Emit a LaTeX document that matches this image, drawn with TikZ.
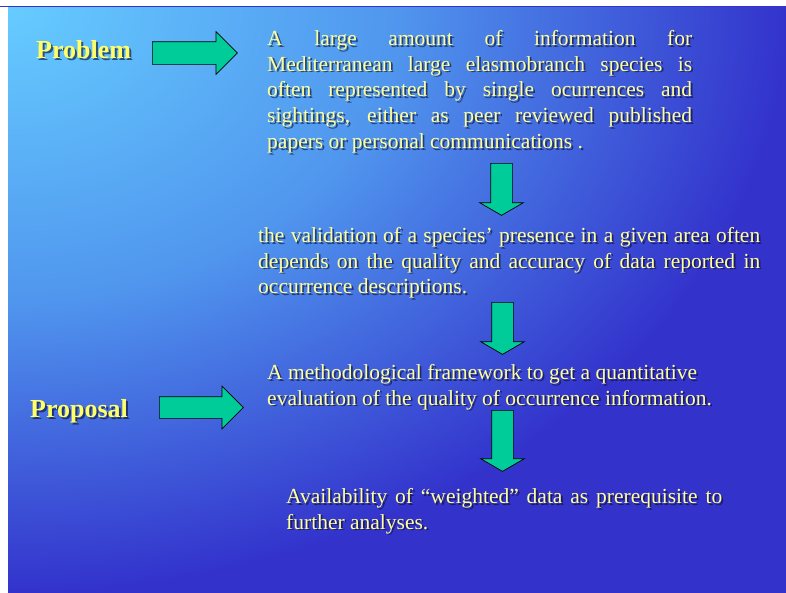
\documentclass[tikz,border=0pt]{standalone}
\usepackage{fontspec}
\setmainfont{Liberation Serif}
\usetikzlibrary{shapes.arrows}
\definecolor{bgA}{RGB}{102,204,255}
\definecolor{bgB}{RGB}{80,150,238}
\definecolor{bgC}{RGB}{51,51,204}
\definecolor{txtcol}{RGB}{255,255,153}
\definecolor{lblcol}{RGB}{255,255,102}
\definecolor{shcol}{RGB}{10,10,40}
\definecolor{arrowfill}{RGB}{0,204,153}
\pgfdeclareradialshading{bgshade}{\pgfpoint{0bp}{0bp}}{color(0bp)=(bgA); color(12.5bp)=(bgB); color(25bp)=(bgC); color(50bp)=(bgC)}
\begin{document}
\begin{tikzpicture}[x=1pt,y=-1pt,
  bodytext/.style={text=txtcol, font=\fontsize{21.5}{25.8}\selectfont, inner sep=0pt, anchor=north west},
  lbltext/.style={text=lblcol, font=\fontsize{26}{30}\selectfont\bfseries, inner sep=0pt, anchor=base west},
  shadowtext/.style={text=shcol, text opacity=0.6},
  blockarrow/.style={single arrow, draw=black, line width=0.7pt, fill=arrowfill, inner xsep=0pt, inner ysep=10.5pt, single arrow head indent=0pt, anchor=tail}]
\useasboundingbox (0,0) rectangle (786,592);
\fill[white] (0,0) rectangle (786,592);
\begin{scope}
  \clip (8,7) rectangle (786,592);
  \node[inner sep=0pt, outer sep=0pt, xscale=31.0, yscale=23.3] (bg) at (8,7) {\pgfuseshading{bgshade}};
\end{scope}
\draw[bgC, line width=1pt] (0,6.5) -- (786,6.5);

% labels (shadow, then text)
\node[lbltext, shadowtext] (problemS) at (38,60) {Problem};
\node[lbltext] (problem) at (36,58) {Problem};
\node[lbltext, shadowtext] (proposalS) at (32,419) {Proposal};
\node[lbltext] (proposal) at (30,417) {Proposal};

% block arrows
\node[blockarrow, minimum height=85pt, minimum width=42pt, single arrow head extend=10pt, inner ysep=11pt] (ra1) at (152,53) {};
\node[blockarrow, minimum height=84pt, minimum width=42pt, single arrow head extend=10.5pt] (ra2) at (159,407.5) {};
\node[blockarrow, rotate=-90, minimum height=52pt, minimum width=43pt, single arrow head extend=11pt, single arrow tip angle=119.7] (da1) at (501.5,163) {};
\node[blockarrow, rotate=-90, minimum height=52pt, minimum width=43pt, single arrow head extend=11pt, single arrow tip angle=119.7] (da2) at (502.5,302) {};
\node[blockarrow, rotate=-90, minimum height=61pt, minimum width=43pt, single arrow head extend=11pt, single arrow tip angle=119.7] (da3) at (502.5,410) {};

% text blocks (shadow, then text)
\foreach \dx/\nm/\st in {1.8/t1S/shadowtext, 0/t1/bodytext}{
\node[bodytext, \st, text width=425pt, align=justify] (\nm) at (267+\dx,26.94+\dx) {\strut A large amount of information for\linebreak Mediterranean large elasmobranch species is\linebreak often represented by single ocurrences and\linebreak sightings, either as peer reviewed published\linebreak papers or personal communications .};
}
\foreach \dx/\nm/\st in {1.8/t2S/shadowtext, 0/t2/bodytext}{
\node[bodytext, \st, text width=502pt, align=justify] (\nm) at (258+\dx,223.94+\dx) {\strut the validation of a species’ presence in a given area often\linebreak depends on the quality and accuracy of data reported in\linebreak occurrence descriptions.};
}
\foreach \dx/\nm/\st in {1.8/t3S/shadowtext, 0/t3/bodytext}{
\node[bodytext, \st, align=left] (\nm) at (267+\dx,360.94+\dx) {\strut A methodological framework to get a quantitative\\ evaluation of the quality of occurrence information.};
}
\foreach \dx/\nm/\st in {1.8/t4S/shadowtext, 0/t4/bodytext}{
\node[bodytext, \st, text width=436pt, align=justify] (\nm) at (286+\dx,484.94+\dx) {\strut Availability of “weighted” data as prerequisite to\linebreak further analyses.};
}
\end{tikzpicture}
\end{document}
